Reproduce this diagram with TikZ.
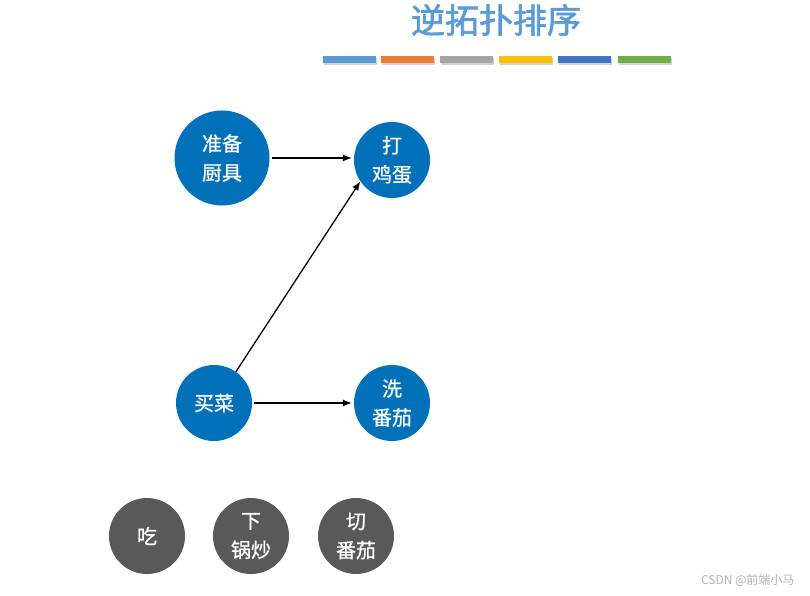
\documentclass[tikz,border=0pt]{standalone}
\usepackage{fontspec}
\newfontfamily\cjk[FakeBold=0.8]{Noto Sans CJK SC}
\newfontfamily\cjkplain{Noto Sans CJK SC}
\newfontfamily\cjkmed[FakeBold=2]{Noto Sans CJK SC}
\usetikzlibrary{arrows.meta,shadows}
\definecolor{nodeblue}{HTML}{0070B8}
\definecolor{nodegray}{HTML}{595959}
\definecolor{titleblue}{HTML}{5B9BD5}
\definecolor{barA}{HTML}{5B9BD5}
\definecolor{barB}{HTML}{ED7D31}
\definecolor{barC}{HTML}{A5A5A5}
\definecolor{barD}{HTML}{FFC000}
\definecolor{barE}{HTML}{4472C4}
\definecolor{barF}{HTML}{70AD47}
\begin{document}
\begin{tikzpicture}[x=1pt,y=-1pt,
  task/.style={circle,fill=nodeblue,text=white,minimum size=76pt,inner sep=0pt,align=center,
    font=\cjk\fontsize{20}{29}\selectfont},
  bigtask/.style={task,minimum size=95pt},
  done/.style={task,fill=nodegray},
  conn/.style={-{Latex[length=9pt,width=7pt]},line width=1.3pt,black},
  bar/.style={draw=none,drop shadow={shadow xshift=1pt,shadow yshift=-2pt,opacity=0.35}}]
\useasboundingbox (0,0) rectangle (810,596);
\fill[white] (0,0) rectangle (810,596);
\node[font=\cjkmed\fontsize{34}{38}\selectfont,text=titleblue] (title) at (496,20) {逆拓扑排序};
\foreach \x/\c in {323/barA,381/barB,440/barC,499/barD,558/barE,618/barF}
  \fill[\c,bar] (\x,56) rectangle ++(53,7);
\node[bigtask] (prep) at (222,158) {准备\\厨具};
\node[task] (egg) at (392,160) {打\\鸡蛋};
\node[task] (buy) at (214,403) {买菜};
\node[task] (wash) at (392,403) {洗\\番茄};
\node[done] (eat) at (147,536) {吃};
\node[done] (fry) at (251,536) {下\\锅炒};
\node[done] (cut) at (356,536) {切\\番茄};
\draw[conn] (prep.east) ++(2,0) -- ([xshift=-2pt]egg.west |- prep.east);
\draw[conn] (buy.55) -- (egg.214);
\draw[conn] ([xshift=2pt]buy.east) -- ([xshift=-2pt]wash.west);
\node[font=\cjkplain\fontsize{12}{14}\selectfont,text=black!30,anchor=east] (wm) at (798,580) {CSDN @前端小马};
\end{tikzpicture}
\end{document}
